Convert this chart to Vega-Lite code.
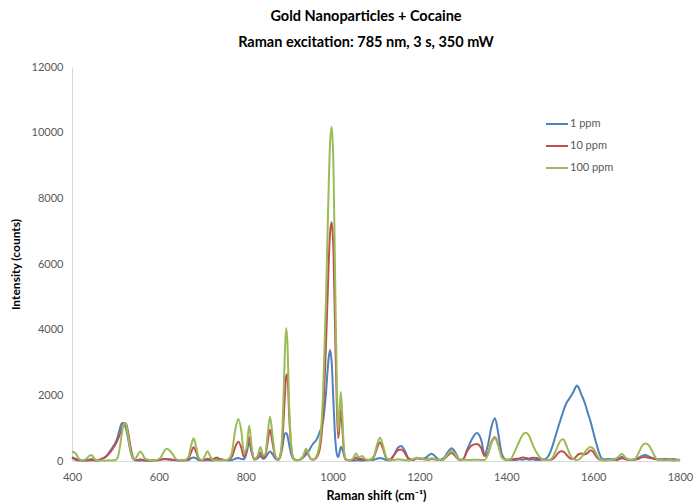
{
  "$schema": "https://vega.github.io/schema/vega-lite/v6.json",
  "width": 608,
  "height": 394,
  "autosize": {"type": "none"},
  "padding": {"left": 72, "top": 67, "right": 16, "bottom": 41},
  "background": "white",
  "config": {
    "view": {"stroke": null},
    "font": "Lato"
  },
  "title": {
    "text": ["Gold Nanoparticles + Cocaine", "Raman excitation: 785 nm, 3 s, 350 mW"],
    "fontSize": 14.5,
    "fontWeight": "bold",
    "font": "Lato",
    "color": "#000000",
    "lineHeight": 26,
    "offset": 11,
    "dx": -10,
    "anchor": "middle"
  },
  "data": {
    "values": [
      {"x":400,"1 ppm":100,"10 ppm":120,"100 ppm":280},
      {"x":405,"1 ppm":60,"10 ppm":90,"100 ppm":260},
      {"x":410,"1 ppm":30,"10 ppm":60,"100 ppm":200},
      {"x":415,"1 ppm":20,"10 ppm":30,"100 ppm":80},
      {"x":420,"1 ppm":15,"10 ppm":20,"100 ppm":30},
      {"x":425,"1 ppm":10,"10 ppm":25,"100 ppm":20},
      {"x":430,"1 ppm":15,"10 ppm":20,"100 ppm":40},
      {"x":435,"1 ppm":20,"10 ppm":15,"100 ppm":90},
      {"x":440,"1 ppm":40,"10 ppm":20,"100 ppm":160},
      {"x":445,"1 ppm":60,"10 ppm":25,"100 ppm":180},
      {"x":450,"1 ppm":40,"10 ppm":20,"100 ppm":100},
      {"x":455,"1 ppm":20,"10 ppm":15,"100 ppm":30},
      {"x":460,"1 ppm":25,"10 ppm":30,"100 ppm":15},
      {"x":465,"1 ppm":40,"10 ppm":50,"100 ppm":10},
      {"x":470,"1 ppm":70,"10 ppm":80,"100 ppm":15},
      {"x":475,"1 ppm":100,"10 ppm":110,"100 ppm":10},
      {"x":480,"1 ppm":160,"10 ppm":150,"100 ppm":15},
      {"x":485,"1 ppm":250,"10 ppm":220,"100 ppm":20},
      {"x":490,"1 ppm":350,"10 ppm":300,"100 ppm":15},
      {"x":495,"1 ppm":450,"10 ppm":400,"100 ppm":20},
      {"x":500,"1 ppm":560,"10 ppm":500,"100 ppm":30},
      {"x":505,"1 ppm":720,"10 ppm":640,"100 ppm":100},
      {"x":510,"1 ppm":980,"10 ppm":800,"100 ppm":400},
      {"x":515,"1 ppm":1150,"10 ppm":1000,"100 ppm":850},
      {"x":518,"1 ppm":1160,"10 ppm":1100,"100 ppm":1080},
      {"x":522,"1 ppm":1080,"10 ppm":1150,"100 ppm":1160},
      {"x":525,"1 ppm":950,"10 ppm":1120,"100 ppm":1080},
      {"x":530,"1 ppm":620,"10 ppm":820,"100 ppm":700},
      {"x":535,"1 ppm":280,"10 ppm":420,"100 ppm":300},
      {"x":540,"1 ppm":80,"10 ppm":130,"100 ppm":90},
      {"x":545,"1 ppm":30,"10 ppm":40,"100 ppm":60},
      {"x":550,"1 ppm":20,"10 ppm":20,"100 ppm":150},
      {"x":557,"1 ppm":15,"10 ppm":50,"100 ppm":290},
      {"x":562,"1 ppm":20,"10 ppm":40,"100 ppm":220},
      {"x":567,"1 ppm":15,"10 ppm":20,"100 ppm":90},
      {"x":575,"1 ppm":10,"10 ppm":15,"100 ppm":40},
      {"x":585,"1 ppm":15,"10 ppm":20,"100 ppm":20},
      {"x":595,"1 ppm":20,"10 ppm":25,"100 ppm":30},
      {"x":600,"1 ppm":30,"10 ppm":30,"100 ppm":60},
      {"x":605,"1 ppm":50,"10 ppm":40,"100 ppm":120},
      {"x":610,"1 ppm":60,"10 ppm":50,"100 ppm":250},
      {"x":618,"1 ppm":50,"10 ppm":60,"100 ppm":370},
      {"x":625,"1 ppm":40,"10 ppm":50,"100 ppm":320},
      {"x":632,"1 ppm":30,"10 ppm":40,"100 ppm":200},
      {"x":640,"1 ppm":20,"10 ppm":30,"100 ppm":60},
      {"x":650,"1 ppm":15,"10 ppm":20,"100 ppm":20},
      {"x":660,"1 ppm":20,"10 ppm":20,"100 ppm":30},
      {"x":668,"1 ppm":30,"10 ppm":70,"100 ppm":120},
      {"x":674,"1 ppm":80,"10 ppm":260,"100 ppm":450},
      {"x":680,"1 ppm":110,"10 ppm":420,"100 ppm":690},
      {"x":686,"1 ppm":80,"10 ppm":270,"100 ppm":420},
      {"x":692,"1 ppm":30,"10 ppm":60,"100 ppm":90},
      {"x":700,"1 ppm":20,"10 ppm":20,"100 ppm":30},
      {"x":706,"1 ppm":20,"10 ppm":40,"100 ppm":150},
      {"x":712,"1 ppm":30,"10 ppm":70,"100 ppm":300},
      {"x":718,"1 ppm":20,"10 ppm":50,"100 ppm":150},
      {"x":725,"1 ppm":15,"10 ppm":60,"100 ppm":30},
      {"x":733,"1 ppm":40,"10 ppm":110,"100 ppm":20},
      {"x":740,"1 ppm":60,"10 ppm":60,"100 ppm":15},
      {"x":750,"1 ppm":30,"10 ppm":30,"100 ppm":20},
      {"x":760,"1 ppm":20,"10 ppm":40,"100 ppm":50},
      {"x":768,"1 ppm":30,"10 ppm":120,"100 ppm":250},
      {"x":776,"1 ppm":70,"10 ppm":430,"100 ppm":950},
      {"x":783,"1 ppm":90,"10 ppm":590,"100 ppm":1280},
      {"x":790,"1 ppm":60,"10 ppm":400,"100 ppm":900},
      {"x":796,"1 ppm":50,"10 ppm":120,"100 ppm":250},
      {"x":802,"1 ppm":250,"10 ppm":320,"100 ppm":400},
      {"x":808,"1 ppm":560,"10 ppm":720,"100 ppm":1080},
      {"x":814,"1 ppm":250,"10 ppm":300,"100 ppm":400},
      {"x":820,"1 ppm":60,"10 ppm":40,"100 ppm":60},
      {"x":828,"1 ppm":90,"10 ppm":120,"100 ppm":180},
      {"x":834,"1 ppm":150,"10 ppm":260,"100 ppm":430},
      {"x":840,"1 ppm":70,"10 ppm":110,"100 ppm":170},
      {"x":845,"1 ppm":100,"10 ppm":150,"100 ppm":200},
      {"x":850,"1 ppm":200,"10 ppm":530,"100 ppm":750},
      {"x":856,"1 ppm":290,"10 ppm":950,"100 ppm":1350},
      {"x":862,"1 ppm":200,"10 ppm":530,"100 ppm":750},
      {"x":868,"1 ppm":80,"10 ppm":130,"100 ppm":180},
      {"x":875,"1 ppm":40,"10 ppm":40,"100 ppm":40},
      {"x":880,"1 ppm":180,"10 ppm":150,"100 ppm":200},
      {"x":885,"1 ppm":450,"10 ppm":720,"100 ppm":1100},
      {"x":889,"1 ppm":800,"10 ppm":1700,"100 ppm":2800},
      {"x":893,"1 ppm":850,"10 ppm":2550,"100 ppm":4050},
      {"x":896,"1 ppm":780,"10 ppm":2650,"100 ppm":3600},
      {"x":900,"1 ppm":500,"10 ppm":1400,"100 ppm":1700},
      {"x":905,"1 ppm":200,"10 ppm":400,"100 ppm":450},
      {"x":910,"1 ppm":60,"10 ppm":90,"100 ppm":80},
      {"x":918,"1 ppm":30,"10 ppm":20,"100 ppm":20},
      {"x":925,"1 ppm":40,"10 ppm":40,"100 ppm":30},
      {"x":932,"1 ppm":100,"10 ppm":130,"100 ppm":150},
      {"x":939,"1 ppm":200,"10 ppm":280,"100 ppm":370},
      {"x":945,"1 ppm":300,"10 ppm":170,"100 ppm":200},
      {"x":950,"1 ppm":420,"10 ppm":60,"100 ppm":60},
      {"x":956,"1 ppm":540,"10 ppm":40,"100 ppm":50},
      {"x":963,"1 ppm":650,"10 ppm":100,"100 ppm":150},
      {"x":971,"1 ppm":900,"10 ppm":400,"100 ppm":600},
      {"x":978,"1 ppm":1200,"10 ppm":1400,"100 ppm":2000},
      {"x":985,"1 ppm":2100,"10 ppm":3600,"100 ppm":5000},
      {"x":990,"1 ppm":3000,"10 ppm":5600,"100 ppm":7800},
      {"x":994,"1 ppm":3380,"10 ppm":6900,"100 ppm":9600},
      {"x":998,"1 ppm":3000,"10 ppm":7270,"100 ppm":10180},
      {"x":1002,"1 ppm":1800,"10 ppm":6400,"100 ppm":9000},
      {"x":1006,"1 ppm":700,"10 ppm":3900,"100 ppm":5500},
      {"x":1010,"1 ppm":200,"10 ppm":1600,"100 ppm":2200},
      {"x":1013,"1 ppm":120,"10 ppm":700,"100 ppm":900},
      {"x":1016,"1 ppm":250,"10 ppm":1100,"100 ppm":1500},
      {"x":1019,"1 ppm":430,"10 ppm":1560,"100 ppm":2100},
      {"x":1022,"1 ppm":380,"10 ppm":1100,"100 ppm":1500},
      {"x":1026,"1 ppm":200,"10 ppm":300,"100 ppm":400},
      {"x":1030,"1 ppm":50,"10 ppm":50,"100 ppm":60},
      {"x":1038,"1 ppm":20,"10 ppm":20,"100 ppm":20},
      {"x":1046,"1 ppm":15,"10 ppm":30,"100 ppm":60},
      {"x":1054,"1 ppm":20,"10 ppm":110,"100 ppm":230},
      {"x":1060,"1 ppm":20,"10 ppm":60,"100 ppm":120},
      {"x":1068,"1 ppm":15,"10 ppm":60,"100 ppm":150},
      {"x":1075,"1 ppm":20,"10 ppm":30,"100 ppm":60},
      {"x":1085,"1 ppm":30,"10 ppm":40,"100 ppm":30},
      {"x":1095,"1 ppm":40,"10 ppm":120,"100 ppm":150},
      {"x":1102,"1 ppm":70,"10 ppm":380,"100 ppm":480},
      {"x":1109,"1 ppm":90,"10 ppm":560,"100 ppm":710},
      {"x":1116,"1 ppm":70,"10 ppm":380,"100 ppm":480},
      {"x":1124,"1 ppm":30,"10 ppm":80,"100 ppm":100},
      {"x":1132,"1 ppm":20,"10 ppm":40,"100 ppm":20},
      {"x":1140,"1 ppm":150,"10 ppm":150,"100 ppm":30},
      {"x":1150,"1 ppm":400,"10 ppm":320,"100 ppm":50},
      {"x":1158,"1 ppm":460,"10 ppm":350,"100 ppm":40},
      {"x":1166,"1 ppm":330,"10 ppm":250,"100 ppm":30},
      {"x":1175,"1 ppm":80,"10 ppm":60,"100 ppm":20},
      {"x":1185,"1 ppm":40,"10 ppm":30,"100 ppm":60},
      {"x":1195,"1 ppm":90,"10 ppm":80,"100 ppm":100},
      {"x":1205,"1 ppm":70,"10 ppm":60,"100 ppm":80},
      {"x":1215,"1 ppm":100,"10 ppm":50,"100 ppm":40},
      {"x":1222,"1 ppm":180,"10 ppm":40,"100 ppm":60},
      {"x":1228,"1 ppm":220,"10 ppm":60,"100 ppm":80},
      {"x":1235,"1 ppm":160,"10 ppm":50,"100 ppm":70},
      {"x":1245,"1 ppm":40,"10 ppm":30,"100 ppm":30},
      {"x":1255,"1 ppm":80,"10 ppm":40,"100 ppm":50},
      {"x":1265,"1 ppm":260,"10 ppm":160,"100 ppm":200},
      {"x":1274,"1 ppm":390,"10 ppm":240,"100 ppm":320},
      {"x":1282,"1 ppm":280,"10 ppm":160,"100 ppm":220},
      {"x":1292,"1 ppm":50,"10 ppm":30,"100 ppm":40},
      {"x":1300,"1 ppm":40,"10 ppm":50,"100 ppm":40},
      {"x":1310,"1 ppm":350,"10 ppm":300,"100 ppm":30},
      {"x":1320,"1 ppm":640,"10 ppm":470,"100 ppm":30},
      {"x":1332,"1 ppm":850,"10 ppm":520,"100 ppm":40},
      {"x":1342,"1 ppm":650,"10 ppm":400,"100 ppm":30},
      {"x":1350,"1 ppm":200,"10 ppm":150,"100 ppm":30},
      {"x":1358,"1 ppm":500,"10 ppm":250,"100 ppm":200},
      {"x":1366,"1 ppm":1050,"10 ppm":580,"100 ppm":550},
      {"x":1374,"1 ppm":1300,"10 ppm":720,"100 ppm":690},
      {"x":1382,"1 ppm":800,"10 ppm":480,"100 ppm":450},
      {"x":1390,"1 ppm":200,"10 ppm":120,"100 ppm":100},
      {"x":1400,"1 ppm":40,"10 ppm":30,"100 ppm":30},
      {"x":1410,"1 ppm":50,"10 ppm":40,"100 ppm":60},
      {"x":1420,"1 ppm":30,"10 ppm":60,"100 ppm":300},
      {"x":1430,"1 ppm":50,"10 ppm":80,"100 ppm":600},
      {"x":1438,"1 ppm":40,"10 ppm":110,"100 ppm":800},
      {"x":1445,"1 ppm":60,"10 ppm":90,"100 ppm":860},
      {"x":1452,"1 ppm":40,"10 ppm":70,"100 ppm":780},
      {"x":1460,"1 ppm":50,"10 ppm":100,"100 ppm":520},
      {"x":1470,"1 ppm":30,"10 ppm":90,"100 ppm":250},
      {"x":1480,"1 ppm":40,"10 ppm":60,"100 ppm":80},
      {"x":1490,"1 ppm":60,"10 ppm":40,"100 ppm":40},
      {"x":1497,"1 ppm":150,"10 ppm":30,"100 ppm":30},
      {"x":1505,"1 ppm":400,"10 ppm":50,"100 ppm":80},
      {"x":1512,"1 ppm":700,"10 ppm":120,"100 ppm":250},
      {"x":1520,"1 ppm":1050,"10 ppm":250,"100 ppm":500},
      {"x":1526,"1 ppm":1300,"10 ppm":300,"100 ppm":640},
      {"x":1531,"1 ppm":1500,"10 ppm":290,"100 ppm":660},
      {"x":1538,"1 ppm":1750,"10 ppm":200,"100 ppm":480},
      {"x":1545,"1 ppm":1900,"10 ppm":100,"100 ppm":250},
      {"x":1552,"1 ppm":2050,"10 ppm":60,"100 ppm":80},
      {"x":1558,"1 ppm":2200,"10 ppm":90,"100 ppm":40},
      {"x":1562,"1 ppm":2300,"10 ppm":150,"100 ppm":30},
      {"x":1566,"1 ppm":2250,"10 ppm":200,"100 ppm":40},
      {"x":1572,"1 ppm":2050,"10 ppm":230,"100 ppm":100},
      {"x":1580,"1 ppm":1800,"10 ppm":200,"100 ppm":250},
      {"x":1588,"1 ppm":1450,"10 ppm":250,"100 ppm":380},
      {"x":1594,"1 ppm":1200,"10 ppm":330,"100 ppm":430},
      {"x":1600,"1 ppm":900,"10 ppm":280,"100 ppm":380},
      {"x":1608,"1 ppm":500,"10 ppm":120,"100 ppm":200},
      {"x":1615,"1 ppm":200,"10 ppm":40,"100 ppm":60},
      {"x":1623,"1 ppm":50,"10 ppm":20,"100 ppm":20},
      {"x":1635,"1 ppm":60,"10 ppm":30,"100 ppm":30},
      {"x":1645,"1 ppm":50,"10 ppm":40,"100 ppm":40},
      {"x":1655,"1 ppm":60,"10 ppm":30,"100 ppm":100},
      {"x":1666,"1 ppm":120,"10 ppm":80,"100 ppm":210},
      {"x":1675,"1 ppm":70,"10 ppm":50,"100 ppm":100},
      {"x":1685,"1 ppm":40,"10 ppm":30,"100 ppm":30},
      {"x":1695,"1 ppm":50,"10 ppm":40,"100 ppm":50},
      {"x":1705,"1 ppm":100,"10 ppm":70,"100 ppm":250},
      {"x":1712,"1 ppm":150,"10 ppm":110,"100 ppm":450},
      {"x":1720,"1 ppm":180,"10 ppm":120,"100 ppm":530},
      {"x":1728,"1 ppm":140,"10 ppm":100,"100 ppm":480},
      {"x":1736,"1 ppm":90,"10 ppm":80,"100 ppm":300},
      {"x":1745,"1 ppm":60,"10 ppm":50,"100 ppm":80},
      {"x":1755,"1 ppm":50,"10 ppm":40,"100 ppm":30},
      {"x":1765,"1 ppm":60,"10 ppm":30,"100 ppm":20},
      {"x":1775,"1 ppm":50,"10 ppm":40,"100 ppm":30},
      {"x":1785,"1 ppm":60,"10 ppm":20,"100 ppm":20},
      {"x":1795,"1 ppm":40,"10 ppm":30,"100 ppm":30},
      {"x":1800,"1 ppm":30,"10 ppm":20,"100 ppm":20}
    ]
  },
  "transform": [
    {"fold": ["1 ppm", "10 ppm", "100 ppm"], "as": ["series", "value"]}
  ],
  "mark": {"type": "line", "strokeWidth": 2, "interpolate": "monotone"},
  "encoding": {
    "x": {
      "field": "x",
      "type": "quantitative",
      "scale": {"domain": [400, 1800], "nice": false, "zero": false},
      "axis": {
        "title": "Raman shift (cm⁻¹)",
        "values": [400, 600, 800, 1000, 1200, 1400, 1600, 1800],
        "format": "d",
        "labelFlush": false,
        "grid": false,
        "ticks": false,
        "domainColor": "#D9D9D9",
        "labelColor": "#595959",
        "labelFontSize": 11,
        "labelPadding": 10,
        "titleFontSize": 12.5,
        "titleFontWeight": "bold",
        "titleColor": "#000000",
        "titlePadding": 7
      }
    },
    "y": {
      "field": "value",
      "type": "quantitative",
      "scale": {"domain": [0, 12000], "nice": false},
      "axis": {
        "title": "Intensity (counts)",
        "values": [0, 2000, 4000, 6000, 8000, 10000, 12000],
        "format": "d",
        "grid": false,
        "ticks": false,
        "domainColor": "#D9D9D9",
        "labelColor": "#595959",
        "labelFontSize": 11,
        "labelPadding": 9,
        "titleFontSize": 12,
        "titleFontWeight": "bold",
        "titleColor": "#000000",
        "titlePadding": 9
      }
    },
    "color": {
      "field": "series",
      "type": "nominal",
      "scale": {"domain": ["1 ppm", "10 ppm", "100 ppm"], "range": ["#4F81BD", "#C0504D", "#9BBB59"]},
      "legend": {
        "title": null,
        "orient": "none",
        "legendX": 473,
        "legendY": 45,
        "symbolType": "stroke",
        "symbolSize": 484,
        "symbolStrokeWidth": 2,
        "labelFontSize": 11,
        "labelColor": "#595959",
        "labelOffset": 1,
        "rowPadding": 5,
        "padding": 0
      }
    }
  }
}
